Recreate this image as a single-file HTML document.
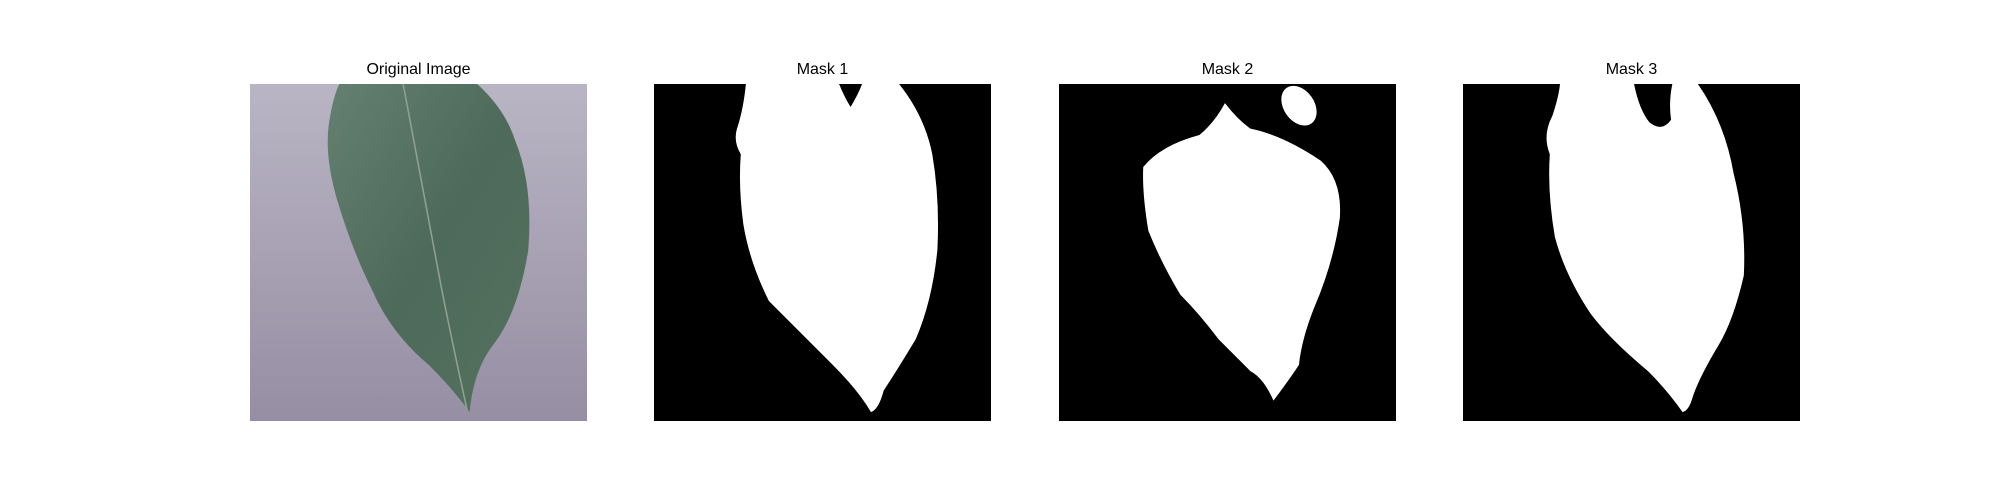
<!DOCTYPE html>
<html><head><meta charset="utf-8"><style>
body{margin:0;width:2000px;height:500px;background:#fff;position:relative;overflow:hidden;font-family:"Liberation Sans","DejaVu Sans",sans-serif}
.t{position:absolute;top:61px;width:337px;text-align:center;font-size:16px;color:#000}
svg{position:absolute;top:84px;width:337px;height:337px}
</style></head><body>
<div class="t" style="left:250px">Original Image</div>
<div class="t" style="left:654px">Mask 1</div>
<div class="t" style="left:1059px">Mask 2</div>
<div class="t" style="left:1463px">Mask 3</div>

<svg style="left:250px" viewBox="0 0 264 264" preserveAspectRatio="none">
<defs><linearGradient id="bg" x1="0" y1="0" x2="0" y2="1"><stop offset="0" stop-color="#b9b5c4"/><stop offset="1" stop-color="#968ea3"/></linearGradient>
<linearGradient id="lf" x1="0" y1="0" x2="1" y2="1"><stop offset="0" stop-color="#648070"/><stop offset="0.5" stop-color="#4d6a5a"/><stop offset="1" stop-color="#55725f"/></linearGradient></defs>
<rect width="264" height="264" fill="url(#bg)"/>
<path d="M70,0 L178,0 Q200,20 208,45 Q222,80 218,130 Q210,180 190,205 Q175,225 172,257 Q160,240 140,220 Q110,195 95,160 Q80,130 68,90 Q58,55 62,30 Q65,10 70,0Z" fill="url(#lf)"/>
<path d="M120,0 Q135,80 150,160 Q160,210 170,255" stroke="#8fa292" stroke-width="1.2" fill="none"/>
</svg>

<svg style="left:654px" viewBox="0 0 264 264" preserveAspectRatio="none">
<rect width="264" height="264" fill="#000"/>
<path fill="#fff" d="M72,0 L145,0 Q149,10 154,18 Q160,8 163,0 L192,0 Q212,25 218,55 Q224,90 222,130 Q218,170 205,200 Q190,225 180,240 Q176,255 170,257 Q160,240 140,220 Q110,190 90,170 Q75,140 70,110 Q66,80 68,55 Q62,45 65,35 Q70,20 72,0Z"/>
</svg>

<svg style="left:1059px" viewBox="0 0 264 264" preserveAspectRatio="none">
<rect width="264" height="264" fill="#000"/>
<path fill="#fff" d="M130,15 Q140,28 150,35 Q175,40 205,60 Q222,75 220,105 Q215,140 200,175 Q190,200 188,220 Q178,235 168,248 Q160,230 150,225 Q140,215 125,200 Q110,180 95,165 Q80,140 70,115 Q65,85 66,65 Q80,48 110,40 Q122,30 130,15Z"/>
<ellipse fill="#fff" cx="188" cy="17" rx="12" ry="17" transform="rotate(-35 188 17)"/>
</svg>

<svg style="left:1463px" viewBox="0 0 264 264" preserveAspectRatio="none">
<rect width="264" height="264" fill="#000"/>
<path fill="#fff" d="M76,0 L134,0 Q138,20 146,30 Q156,38 163,28 Q161,14 164,0 L184,0 Q205,30 212,70 Q222,110 220,150 Q212,185 200,205 Q185,230 180,245 Q177,256 172,257 Q160,240 145,225 Q115,200 100,180 Q80,150 72,120 Q66,85 68,55 Q62,40 70,25 Q75,10 76,0Z"/>
</svg>
</body></html>
